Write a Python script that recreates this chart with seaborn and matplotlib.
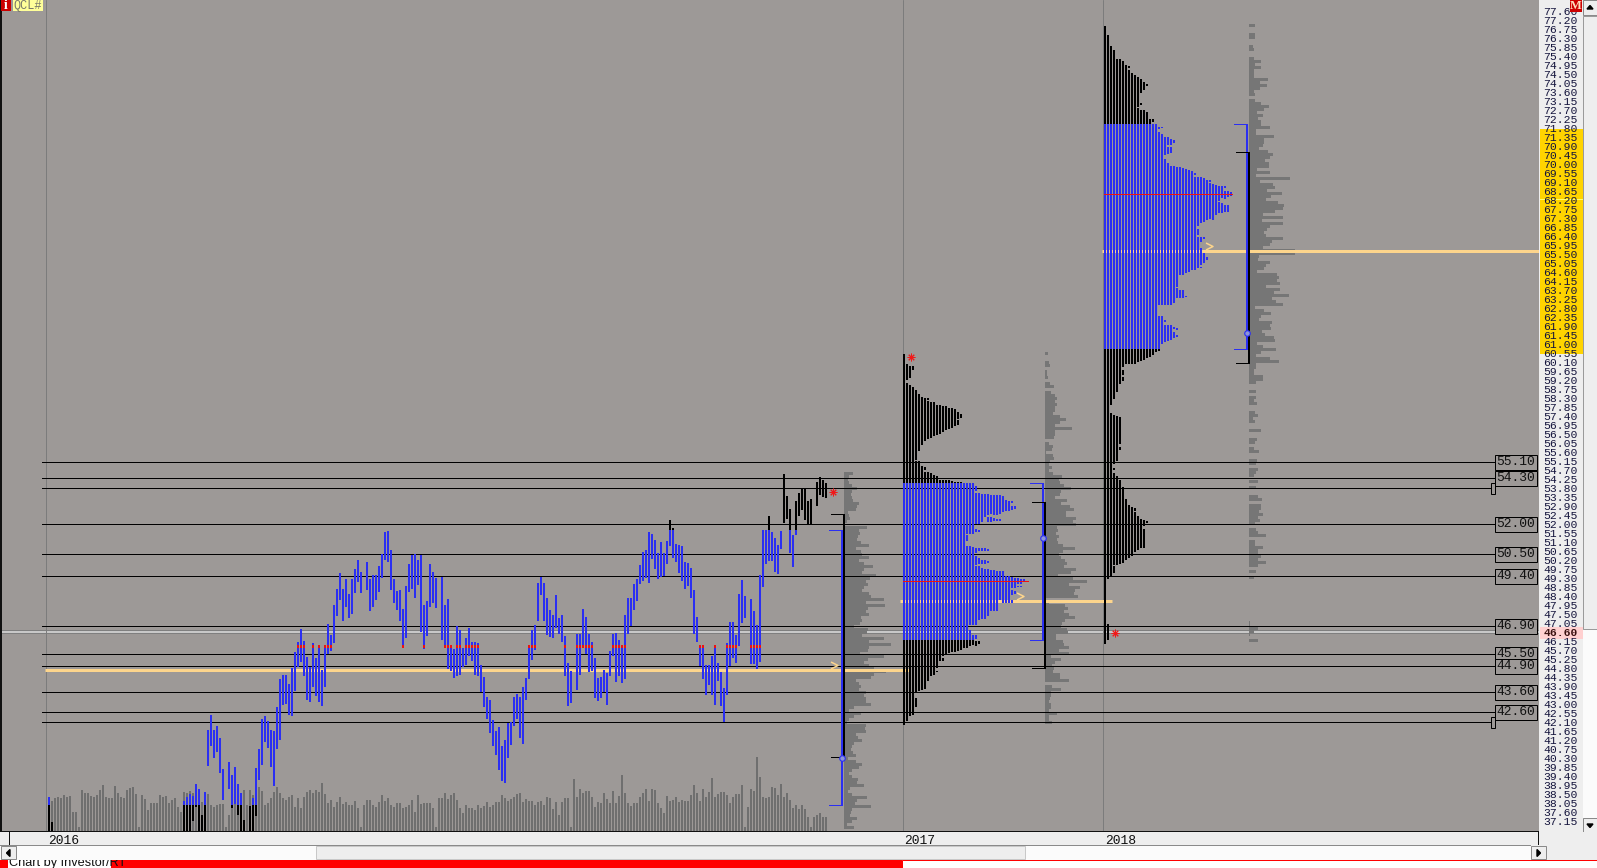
import numpy as np
import matplotlib
matplotlib.use("Agg")
import matplotlib.pyplot as plt
import seaborn as sns
from matplotlib.patches import Rectangle
from matplotlib.path import Path

# --- daily bars, 2016 session (None = no print on the chart) ---
bar_high = [
    38.38, 37.13, None, None, None, None, None, None, None, None,
    None, None, None, None, None, None, None, None, None, None,
    None, None, None, None, None, None, None, None, None, None,
    None, None, None, None, None, None, None, None, None, None,
    None, None, None, None, None, 38.14, 38.38, 38.53, 38.43, 39.03,
    38.78, 37.48, 38.63, 41.73, 42.48, 41.73, 41.93, 41.33, 39.78, None,
    40.13, 39.48, 39.88, 39.03, 38.58, 37.23, None, 37.93, 38.33, 39.83,
    40.78, 42.28, 42.43, 42.18, 41.73, 41.68, 42.88, 44.28, 44.48, 44.48,
    44.03, 44.83, 45.63, 46.13, 46.78, 46.18, 45.38, 44.88, 46.08, 45.33,
    45.93, 44.73, 45.93, 47.03, 46.48, 47.98, 48.78, 49.58, 48.78, 49.28,
    48.53, 49.28, 49.78, 50.23, 49.63, None, 50.13, 49.28, 49.48, 49.48,
    49.93, 50.53, 51.63, 51.68, 50.73, 49.28, 48.68, 48.73, 47.78, 48.93,
    50.03, 50.48, 50.53, 50.23, 50.48, 47.98, 48.18, 50.03, 49.63, 49.33,
    None, 49.38, 47.98, 48.28, 45.98, 45.78, 46.93, 46.73, 45.83, 46.33,
    46.83, 46.13, 46.13, 46.08, 44.98, 44.38, 43.38, 43.23, 42.23, 41.68,
    41.88, 40.93, 41.23, 42.08, 42.13, 43.38, 43.53, 43.38, 43.88, 44.33,
    45.93, 46.73, 46.98, 49.08, 49.38, 49.08, 48.33, 47.73, 47.48, 48.48,
    47.33, 47.48, 46.43, 45.08, 44.68, None, 46.53, 46.53, 47.78, 47.38,
    46.53, 46.13, 45.33, 44.33, 44.38, 44.73, 44.58, 45.68, 46.53, 46.58,
    46.23, 45.98, 47.48, 48.33, 48.33, 49.03, 49.28, 49.98, 50.63, 50.73,
    51.63, 51.53, 51.23, 50.58, 51.13, 50.58, 51.18, 52.23, 51.83, 51.03,
    50.98, 50.93, 50.13, 50.08, 49.83, 48.73, 47.38, 45.93, 45.93, 44.98,
    44.98, 45.39, 45.98, 45.08, 44.63, 43.83, 46.08, 47.13, 47.13, 46.48,
    48.53, 49.23, 48.43, None, 48.28, 47.68, 46.98, 49.48, 51.73, 51.73,
    52.43, 51.63, 51.33, 50.98, 51.68, 54.53, 53.43, 52.78, 51.48, 53.18,
    53.58, 53.78, 53.78, 53.18, 53.28, None, 54.13, 54.38, 54.23, 54.08,
]
bar_low = [
    36.68, 36.68, None, None, None, None, None, None, None, None,
    None, None, None, None, None, None, None, None, None, None,
    None, None, None, None, None, None, None, None, None, None,
    None, None, None, None, None, None, None, None, None, None,
    None, None, None, None, None, 36.68, 36.68, 36.68, 37.14, 37.87,
    36.68, 36.68, 36.68, 39.93, 40.93, 40.33, 40.63, 39.58, 38.23, None,
    38.78, 37.83, 38.03, 37.48, 36.68, 36.68, None, 36.68, 36.68, 37.39,
    39.19, 39.98, 41.13, 40.83, 39.88, 38.93, 40.78, 41.23, 42.98, 43.03,
    42.48, 42.43, 43.68, 44.88, 45.13, 44.43, 43.23, 43.13, 43.88, 43.43,
    43.13, 42.93, 43.88, 45.53, 45.68, 46.08, 47.43, 48.23, 47.18, 47.88,
    47.33, 47.53, 48.58, 49.13, 48.58, None, 48.73, 47.68, 47.88, 48.21,
    48.63, 49.33, 50.23, 50.13, 48.73, 48.08, 47.73, 47.18, 45.83, 46.33,
    48.63, 48.78, 48.33, 48.98, 46.63, 45.78, 46.43, 47.88, 48.08, 47.83,
    None, 46.23, 45.83, 44.78, 44.68, 44.33, 44.43, 44.48, 44.88, 44.98,
    45.43, 45.18, 44.48, 44.43, 43.63, 42.88, 42.28, 41.58, 40.93, 40.48,
    39.73, 39.18, 39.08, 40.33, 40.98, 41.93, 42.28, 41.33, 41.03, 43.23,
    44.28, 45.23, 45.73, 47.18, 48.48, 47.18, 46.48, 46.38, 46.33, 46.83,
    46.53, 46.13, 44.43, 42.93, 43.08, None, 43.73, 44.48, 45.88, 45.53,
    44.63, 44.68, 43.33, 43.18, 43.33, 43.63, 42.98, 44.43, 45.43, 44.13,
    44.43, 44.08, 44.28, 46.53, 46.93, 47.73, 48.18, 49.03, 49.18, 49.33,
    49.08, 50.28, 49.78, 49.28, 49.38, 49.43, 50.03, 50.93, 50.33, 50.13,
    49.58, 49.18, 48.78, 48.93, 48.33, 46.53, 46.13, 44.93, 44.28, 43.48,
    43.98, 43.48, 42.98, 44.18, 42.93, 42.13, 43.48, 44.93, 45.33, 45.08,
    45.93, 47.08, 47.33, None, 45.03, 45.03, 44.78, 45.13, 48.88, 50.03,
    50.18, 50.18, 49.63, 49.53, 50.78, 52.08, 52.28, 50.58, 49.88, 51.48,
    52.43, 52.73, 52.23, 51.98, 52.03, None, 52.93, 53.48, 53.38, 53.33,
]
bar_volume = [
    31, 30, 33, 34, 33, 36, 34, 35, 19, 19,
    4, 41, 38, 38, 35, 34, 36, 41, 46, 34,
    33, 33, 45, 38, 34, 33, 41, 43, 44, 37,
    4, 36, 32, 21, 28, 28, 28, 36, 34, 35,
    28, 31, 33, 24, 19, 39, 38, 40, 38, 26,
    24, 29, 4, 37, 26, 24, 26, 27, 27, 4,
    16, 24, 34, 34, 29, 41, 26, 41, 36, 44,
    44, 40, 26, 28, 33, 39, 44, 38, 33, 31,
    34, 36, 24, 33, 23, 34, 39, 41, 38, 41,
    39, 48, 37, 28, 31, 24, 29, 34, 27, 29,
    26, 26, 30, 23, 4, 26, 31, 31, 26, 24,
    29, 36, 30, 33, 26, 24, 28, 28, 23, 24,
    26, 31, 19, 36, 27, 28, 28, 28, 23, 4,
    33, 33, 38, 32, 36, 38, 31, 23, 18, 26,
    23, 23, 21, 26, 23, 25, 29, 24, 26, 29,
    29, 36, 33, 30, 32, 34, 37, 38, 29, 32,
    30, 30, 26, 29, 30, 26, 34, 33, 22, 29,
    16, 29, 33, 33, 4, 52, 34, 42, 38, 40,
    40, 34, 24, 29, 28, 38, 32, 28, 40, 28,
    35, 56, 38, 28, 25, 28, 28, 34, 38, 42,
    30, 42, 41, 28, 23, 18, 35, 30, 31, 34,
    29, 31, 30, 30, 36, 46, 38, 30, 42, 34,
    39, 53, 34, 37, 39, 39, 36, 28, 34, 37,
    37, 46, 4, 24, 42, 40, 74, 54, 34, 33,
    34, 44, 43, 36, 47, 34, 38, 31, 23, 26,
    22, 26, 22, 14, 4, 14, 16, 18, 14, 14,
]

# --- market profile columns, each column is a list of (low, high) price runs ---
profile_2017 = [
    [(41.98, 60.53)],
    [(59.23, 60.03), (42.18, 59.08)],
    [(59.33, 59.93), (42.43, 58.98)],
    [(59.73, 59.93), (42.48, 58.88)],
    [(55.23, 58.73), (43.59, 55.19), (42.84, 43.31)],
    [(55.68, 58.53), (43.64, 55.19)],
    [(55.98, 58.38), (43.69, 54.93)],
    [(56.18, 58.33), (54.73, 54.88), (43.74, 54.63)],
    [(58.23, 58.33), (56.28, 58.18), (44.14, 54.63)],
    [(56.33, 58.13), (44.39, 54.58)],
    [(56.43, 58.13), (44.48, 54.48)],
    [(56.48, 57.98), (44.81, 54.43), (44.59, 44.68)],
    [(56.53, 57.98), (45.14, 54.23)],
    [(56.63, 57.93), (45.39, 54.23), (45.17, 45.31)],
    [(56.73, 57.93), (45.53, 54.23)],
    [(56.78, 57.83), (45.56, 54.23)],
    [(56.83, 57.83), (45.59, 54.18)],
    [(56.93, 57.78), (45.63, 54.13)],
    [(57.28, 57.63), (56.98, 57.23), (45.66, 54.13)],
    [(57.33, 57.53), (45.69, 54.13)],
    [(45.81, 54.06)],
    [(51.53, 54.06), (51.14, 51.48), (45.81, 50.93)],
    [(51.53, 54.06), (46.98, 50.89), (45.89, 46.73)],
    [(51.53, 54.06), (46.98, 50.86), (45.97, 46.48)],
    [(53.69, 53.93), (52.03, 53.58), (51.59, 51.76), (50.56, 50.83), (49.98, 50.43),
     (46.98, 49.93), (46.28, 46.48), (45.93, 46.14)],
    [(52.03, 53.58), (51.63, 51.73), (50.64, 50.81), (50.03, 50.29), (47.23, 49.89),
     (46.03, 46.14)],
    [(52.14, 53.53), (50.64, 50.81), (50.03, 50.23), (47.26, 49.81)],
    [(52.39, 53.53), (50.68, 50.81), (50.03, 50.23), (47.26, 49.78)],
    [(52.46, 53.53), (52.14, 52.39), (50.69, 50.76), (50.04, 50.14), (47.39, 49.78)],
    [(52.49, 53.48), (52.14, 52.36), (47.64, 49.73)],
    [(52.48, 53.48), (52.18, 52.31), (47.64, 49.73)],
    [(52.48, 53.48), (52.18, 52.28), (47.64, 49.69)],
    [(52.53, 53.48), (52.18, 52.28), (48.23, 49.64)],
    [(52.63, 53.43), (48.06, 49.64)],
    [(52.66, 53.23), (48.06, 49.43)],
    [(52.69, 53.19), (48.06, 49.43)],
    [(53.06, 53.18), (52.73, 52.93), (48.81, 49.38), (48.48, 48.73), (48.06, 48.23)],
    [(52.78, 52.93), (48.81, 49.33), (48.51, 48.64)],
    [(49.0, 49.33), (48.85, 48.93)],
    [(49.0, 49.28), (48.85, 48.93)],
    [(49.11, 49.28)],
    [(49.09, 49.19)],
]
profile_2018 = [
    [(46.03, 76.93)],
    [(49.26, 76.48), (46.23, 47.03)],
    [(57.98, 75.93), (49.36, 57.56)],
    [(58.26, 75.73), (55.03, 57.48), (54.7, 54.8), (49.98, 54.56), (49.56, 49.93)],
    [(58.59, 75.28), (55.19, 57.43), (49.98, 54.43)],
    [(59.03, 75.28), (56.03, 57.36), (55.73, 55.89), (50.03, 54.23)],
    [(59.89, 75.18), (59.48, 59.73), (59.18, 59.38), (50.08, 53.88)],
    [(60.03, 74.98), (50.23, 53.26)],
    [(74.83, 74.93), (60.03, 74.73), (50.31, 52.98)],
    [(60.03, 74.56), (50.43, 52.86)],
    [(60.03, 74.48), (52.66, 52.83), (50.63, 52.59)],
    [(72.89, 74.38), (60.14, 72.79), (50.73, 52.43)],
    [(73.59, 74.28), (72.98, 73.06), (60.18, 72.73), (50.8, 52.28)],
    [(73.73, 74.13), (60.23, 72.73), (51.93, 52.23), (50.8, 51.78)],
    [(73.93, 74.03), (60.31, 72.63), (52.08, 52.18)],
    [(60.36, 72.28)],
    [(72.13, 72.28), (60.48, 72.03)],
    [(60.59, 72.03)],
    [(71.76, 71.89), (62.98, 71.64), (60.68, 62.43)],
    [(71.79, 71.89), (62.98, 71.53), (61.03, 62.43)],
    [(70.48, 71.39), (62.98, 70.28), (62.13, 62.23), (61.13, 61.98)],
    [(70.98, 71.36), (70.53, 70.86), (62.98, 70.06), (61.18, 61.98)],
    [(70.98, 71.26), (70.56, 70.86), (62.98, 69.94), (61.23, 61.98)],
    [(71.09, 71.23), (63.06, 69.93), (61.76, 61.86), (61.31, 61.64)],
    [(63.89, 69.89), (63.31, 63.81), (61.73, 61.81), (61.38, 61.48)],
    [(64.48, 69.86), (63.31, 63.73)],
    [(64.48, 69.81), (63.31, 63.73)],
    [(64.56, 69.76), (63.34, 63.43)],
    [(64.64, 69.73)],
    [(64.73, 69.69)],
    [(69.48, 69.59), (64.73, 69.39)],
    [(66.93, 69.39), (66.48, 66.76), (64.81, 66.36)],
    [(67.06, 69.39), (66.14, 66.39), (64.98, 65.81), (64.79, 64.89)],
    [(67.14, 69.31), (66.28, 66.39), (65.09, 65.56)],
    [(67.23, 69.23), (65.23, 65.36)],
    [(69.14, 69.23), (67.26, 69.06)],
    [(67.23, 69.03)],
    [(67.48, 68.98)],
    [(68.17, 68.93), (67.56, 68.14)],
    [(68.31, 68.93), (67.56, 68.06)],
    [(68.83, 68.93), (68.26, 68.68), (67.64, 67.98)],
    [(68.39, 68.68), (67.64, 67.98)],
    [(68.43, 68.64)],
]

# --- volume at price, top row first ---
vap_2016 = [
    9, 5, 4, 5, 8, 13, 8, 7, 8, 9, 15, 13, 12, 4, 5, 6, 3, 1, 23, 15,
    16, 14, 13, 17, 25, 12, 17, 18, 25, 15, 20, 29, 20, 18, 32, 26, 22, 24, 20, 18,
    25, 27, 40, 22, 41, 24, 22, 25, 17, 18, 16, 10, 24, 23, 18, 40, 25, 47, 25, 24,
    16, 40, 24, 20, 25, 30, 42, 30, 27, 12, 15, 17, 15, 22, 20, 22, 22, 27, 10, 5,
    17, 10, 5, 3, 22, 21, 22, 12, 14, 18, 10, 8, 7, 9, 12, 4, 12, 18, 15, 8,
    5, 8, 14, 13, 20, 6, 4, 8, 23, 13, 11, 27, 8, 7, 6, 13, 8, 3, 10,
]
vap_2017 = [
    3, 0, 0, 4, 5, 0, 2, 2, 3, 0, 5, 9, 0, 6, 10, 12, 10, 12, 10, 10,
    8, 15, 21, 15, 10, 27, 10, 10, 9, 0, 4, 8, 7, 1, 8, 9, 5, 4, 7, 4,
    8, 17, 14, 15, 19, 26, 16, 15, 10, 22, 16, 25, 29, 21, 21, 31, 28, 31, 12, 13,
    11, 14, 12, 13, 18, 30, 18, 14, 16, 20, 22, 19, 31, 26, 13, 28, 42, 24, 35, 30,
    29, 33, 0, 4, 20, 23, 19, 24, 30, 20, 17, 16, 22, 23, 11, 11, 18, 19, 24, 14,
    24, 6, 16, 10, 7, 9, 8, 15, 15, 24, 0, 7, 16, 6, 6, 5, 4, 6, 6, 4,
    12, 4, 4, 7,
]
vap_2018 = [
    6, 0, 0, 6, 6, 0, 0, 4, 5, 0, 0, 5, 12, 6, 12, 5, 5, 5, 19, 11,
    18, 11, 5, 6, 0, 6, 12, 20, 15, 8, 14, 9, 12, 12, 21, 7, 7, 25, 15, 15,
    14, 10, 19, 24, 21, 16, 20, 20, 8, 21, 7, 41, 11, 24, 26, 18, 33, 22, 17, 29,
    35, 34, 26, 14, 34, 13, 34, 21, 18, 15, 17, 34, 23, 21, 14, 46, 46, 10, 9, 21,
    17, 15, 8, 28, 30, 28, 31, 17, 31, 25, 40, 23, 27, 34, 6, 15, 22, 12, 10, 23,
    21, 22, 13, 16, 25, 26, 8, 14, 27, 12, 7, 21, 30, 7, 7, 5, 5, 14, 14, 7,
    0, 0, 7, 0, 7, 5, 8, 0, 0, 6, 9, 4, 6, 0, 0, 12, 0, 0, 8, 6,
    0, 5, 10, 0, 0, 8, 7, 0, 9, 7, 5, 0, 9, 0, 7, 0, 0, 9, 13, 0,
    12, 12, 10, 14, 9, 11, 6, 0, 7, 9, 17, 0, 6, 6, 14, 9, 9, 12, 9, 17,
    9, 0, 7, 0, 5, 0, 0, 0, 0, 0, 0, 0, 0, 0, 0, 0, 0, 0, 0, 1,
    1, 9, 5, 1, 0, 9,
]
vap_top = [54.53, 60.53, 76.93]
vap_step = 0.15

# --- levels ---
level_prices = [55.10, 54.30, 53.80, 52.00, 50.50, 49.40, 46.90, 45.50, 44.90, 43.60, 42.60, 42.10]
level_labels = ["55.10", "54.30", "", "52.00", "50.50", "49.40", "46.90", "45.50", "44.90", "43.60", "42.60", ""]
last_price = 46.60
poc_2016 = 45.89
year_labels = ["2016", "2017", "2018"]
year_bars = [-0.4, 285, 352]

# per session: value area low/high, bracket ends, poc, yellow level, midpoint, chevron, star
va_low = [37.95, 46.20, 60.77]
va_high = [51.73, 54.06, 72.00]
range_low = [40.36, 44.81, 60.06]
range_high = [52.53, 53.11, 70.61]
poc_price = [None, 49.16, 68.51]
vpoc_price = [44.71, 48.16, 65.66]
mid_price = [40.31, 51.31, 61.56]
chevron_price = [44.94, 48.41, 65.93]
star_price = [53.64, 60.36, 46.58]

# layout of sessions in bar units
bracket_bars = [265, 332, 400]
profile_bars = [None, 285, 352]
chevron_bars = [261.67, 323.67, 386.67]
star_bars = [261.2, 287.2, 355.2]
vpoc_from = [-1.33, 283.67, 351]
vpoc_to = [287, 354.33, 496.67]

BG = "#9d9997"
BLUE = "#2b2ff2"
VOL = "#6f6f6f"
YELLOW = "#fdd58c"
PANEL = "#eeeeee"
MONO = "Liberation Mono"
W, H = 1597, 868
PX = 72 / 100  # one screen pixel in points

sns.set_style("white")
plt.rcParams["font.family"] = [MONO, "DejaVu Sans Mono"]

fig = plt.figure(figsize=(W / 100, H / 100), dpi=100, facecolor=PANEL)


def ui_axes(zorder):
    a = fig.add_axes([0, 0, 1, 1], zorder=zorder)
    a.set_xlim(0, W)
    a.set_ylim(H, 0)
    a.axis("off")
    a.patch.set_visible(False)
    return a


def box(a, x0, y0, x1, y1, fc, ec="none", lw=0, z=1):
    a.add_patch(Rectangle((x0, y0), x1 - x0, y1 - y0, facecolor=fc, edgecolor=ec, linewidth=lw * PX, zorder=z))


# price panel background sits under the tick labels
back = ui_axes(0)
box(back, 1540, 129, 1583, 354, "#ffd400")
box(back, 1540, 199, 1583, 200, "#ffff70", z=2)
box(back, 1540, 627, 1583, 639, "#ffd0d0")

# --- main chart ---
ax = fig.add_axes([0, (H - 831) / H, 1539 / W, 831 / H], zorder=2)
ax.patch.set_visible(False)
vol_ax = ax.twinx()
vol_ax.set_zorder(1)
vol_ax.patch.set_visible(True)
vol_ax.set_facecolor(BG)

high = np.array(bar_high, dtype=float)
low = np.array(bar_low, dtype=float)
bars = np.arange(len(high))

sns.barplot(x=bars, y=bar_volume, native_scale=True, color=VOL, saturation=1, width=0.67,
            linewidth=0, errorbar=None, ax=vol_ax)
vol_ax.set_ylim(0, 831)
vol_ax.set_yticks([])
vol_ax.set_ylabel("")

ax.set_zorder(2)
BAR_LW = 2 * PX
seg = dict(capstyle="butt", antialiased=False)

# gray market line and session separators
ax.axhline(last_price, color="#7f7f7f", lw=4 * PX, zorder=0.5, xmin=0.001)
ax.axhline(last_price, color="#c8c8c8", lw=2 * PX, zorder=0.6, xmin=0.001)
for b in [-1, 284.67, 351.33]:
    ax.axvline(b, color="#7c7c7c", lw=PX, zorder=0.7)

# volume at price histograms
for top, rows, base in zip(vap_top, [vap_2016, vap_2017, vap_2018], bracket_bars):
    ys = top - vap_step * np.arange(len(rows))
    ax.barh(ys, np.array(rows) / 3, left=base, height=vap_step * 0.95, color="#767676", linewidth=0, zorder=1)

# horizontal reference levels
ax.hlines(level_prices, -2.33, 482, color="black", lw=PX, zorder=1.5, antialiased=False)
for p, lab in zip(level_prices, level_labels):
    if lab:
        ax.text(489, p, lab, ha="center", va="center", fontsize=9.4, color="#111111", zorder=8,
                bbox=dict(boxstyle="square,pad=0.12", fc=BG, ec="black", lw=PX))
    else:
        ax.add_patch(Rectangle((480.7, p - 0.28), 1.2, 0.56, fc=BG, ec="black", lw=PX, zorder=8))

# yellow volume point of control levels
for p, x0, x1 in zip(vpoc_price, vpoc_from, vpoc_to):
    ax.hlines(p, x0, x1, color=YELLOW, lw=3 * PX, zorder=2, capstyle="butt")


# price bars, blue inside the session value area, black outside
ax.vlines(bars, low, high, color="black", lw=BAR_LW, zorder=3, **seg)
blue_top = np.minimum(high, va_high[0])
blue_bot = np.maximum(low, va_low[0])
inside = blue_top > blue_bot
ax.vlines(bars[inside], blue_bot[inside], blue_top[inside], color=BLUE, lw=BAR_LW, zorder=3.1, **seg)
at_poc = (low <= poc_2016) & (high >= poc_2016)
ax.vlines(bars[at_poc], poc_2016 - 0.07, poc_2016 + 0.07, color="#ee1111", lw=BAR_LW, zorder=3.2, **seg)


# market profile columns
def draw_profile(columns, start, lo_va, hi_va, poc):
    for k, runs in enumerate(columns):
        x = start + k
        for lo, hi in runs:
            ax.vlines(x, lo, hi, color="black", lw=BAR_LW, zorder=3, **seg)
            if min(hi, hi_va) > max(lo, lo_va):
                ax.vlines(x, max(lo, lo_va), min(hi, hi_va), color=BLUE, lw=BAR_LW, zorder=3.1, **seg)
    ax.hlines(poc, start - 0.3, start + len(columns) - 0.7, color="#ee1111", lw=PX, zorder=3.3, antialiased=False)


draw_profile(profile_2017, profile_bars[1], va_low[1], va_high[1], poc_price[1])
draw_profile(profile_2018, profile_bars[2], va_low[2], va_high[2], poc_price[2])

# value area brackets, session range, markers
chevron = Path([(-1, 1), (1, 0), (-1, -1)], [Path.MOVETO, Path.LINETO, Path.LINETO])
for i, base in enumerate(bracket_bars):
    b = base - 0.67
    ax.vlines(b, va_low[i], va_high[i], color=BLUE, lw=BAR_LW, zorder=5, **seg)
    ax.hlines([va_low[i], va_high[i]], base - 5, b, color=BLUE, lw=PX, zorder=5, antialiased=False)
    ax.vlines(base, range_low[i], range_high[i], color="black", lw=BAR_LW, zorder=5, **seg)
    ax.hlines([range_low[i], range_high[i]], base - 4.33, base, color="black", lw=PX, zorder=5, antialiased=False)
    ax.plot(b, mid_price[i], marker="o", ms=4, mfc="#8c94d8", mec=BLUE, mew=0.8, zorder=6)
    ax.plot(chevron_bars[i], chevron_price[i], marker=chevron, ms=5, mfc="none", mec=YELLOW, mew=1.1, zorder=6)
    ax.plot(star_bars[i], star_price[i], marker=(8, 2, 0), ms=5.5, mec="#f01818", mew=0.7, zorder=6)

ax.set_xlim(-49 / 3, (1539 - 49) / 3)
ax.set_ylim(77.2 - (831 - 20.3) / 20, 77.2 + 20.3 / 20)
sns.despine(ax=ax, left=True, bottom=True, right=True, top=True)
sns.despine(ax=vol_ax, left=True, bottom=True, right=True, top=True)

# price scale on the right, 0.45 apart
scale_prices = [77.66] + [round(77.2 - 0.45 * k, 2) for k in range(90)]
scale_labels = ["77.60"] + [f"{p:.2f}" for p in scale_prices[1:]]
ax.yaxis.tick_right()
ax.set_yticks(scale_prices)
ax.set_yticklabels(scale_labels)
ax.tick_params(axis="y", length=0, pad=3, labelsize=8.2, labelcolor="#14143c", right=False, labelright=True)
for t in ax.get_yticklabels():
    if t.get_text() == "46.60":
        t.set_fontweight("bold")
        t.set_color("#3a1010")

# year labels along the bottom
ax.set_xticks(year_bars)
ax.set_xticklabels(year_labels, ha="left", fontsize=9.4, color="#111111")
ax.tick_params(axis="x", length=0, pad=3)
ax.grid(False)
vol_ax.grid(False)

# --- window furniture ---
ui = ui_axes(5)
box(ui, 0, 0, 2, 831, "#111111")
box(ui, 0, 831, 1539, 832, "#111111")
box(ui, 1538, 832, 1539, 845, "#111111")
box(ui, 9, 832, 10, 845, "#111111")
box(ui, 0, 845, 1531, 846, "#8a8a8a")

# footer
box(ui, 0, 860, 902, 868, "#ff0000")
box(ui, 902, 860, 1597, 868, "white", ec="#ff0000", lw=1)
box(ui, 8, 860, 111, 868, "white", z=2)
ui.text(9, 866, "Chart by Investor/RT", family=["Liberation Sans"], fontsize=9.2, color="#111111", va="baseline", zorder=3)

# horizontal scrollbar drawn over the clipped credit text
box(ui, 0, 846, 1597, 860, "#fbfbfb", z=4)
box(ui, 316, 846, 1025, 859, PANEL, ec="#c8c8c8", lw=1, z=4)
for x0, x1, arrow in [(1, 16, [(10, 849.5), (10, 856.5), (6.5, 853)]), (1531, 1546, [(1537, 849.5), (1537, 856.5), (1540.5, 853)])]:
    box(ui, x0, 846, x1, 859, PANEL, ec="#8a8a8a", lw=1, z=5)
    ui.fill([p[0] for p in arrow], [p[1] for p in arrow], color="black", zorder=6)
box(ui, 1546, 832, 1597, 860, PANEL, z=4)

# vertical scrollbar
box(ui, 1583, 0, 1597, 832, "#fbfbfb")
box(ui, 1583, 16, 1597, 629, PANEL, ec="#9a9a9a", lw=1, z=2)
for y0, y1, arrow in [(0, 15, [(1587, 9), (1593, 9), (1590, 5.5)]), (818, 833, [(1587, 824), (1593, 824), (1590, 827.5)])]:
    box(ui, 1583, y0, 1597, y1, PANEL, ec="#8a8a8a", lw=1, z=3)
    ui.fill([p[0] for p in arrow], [p[1] for p in arrow], color="black", zorder=4)

# corner badges
box(ui, 1, 0, 11, 11, "#cc0000")
ui.text(6, 5.5, "i", family=["Liberation Serif"], color="white", fontsize=10, fontweight="bold", ha="center", va="center", zorder=3)
box(ui, 13, 0, 43, 11, "#ffff99")
ui.text(28, 5.5, "QCL#", color="#77776a", fontsize=8.6, ha="center", va="center", zorder=3)
box(ui, 1570, 0, 1582, 12, "#cc0000")
ui.text(1576, 6, "M", family=["Liberation Serif"], color="#ffe0c0", fontsize=9, fontweight="bold", ha="center", va="center", zorder=3)

fig.savefig("out.png", dpi=100)
